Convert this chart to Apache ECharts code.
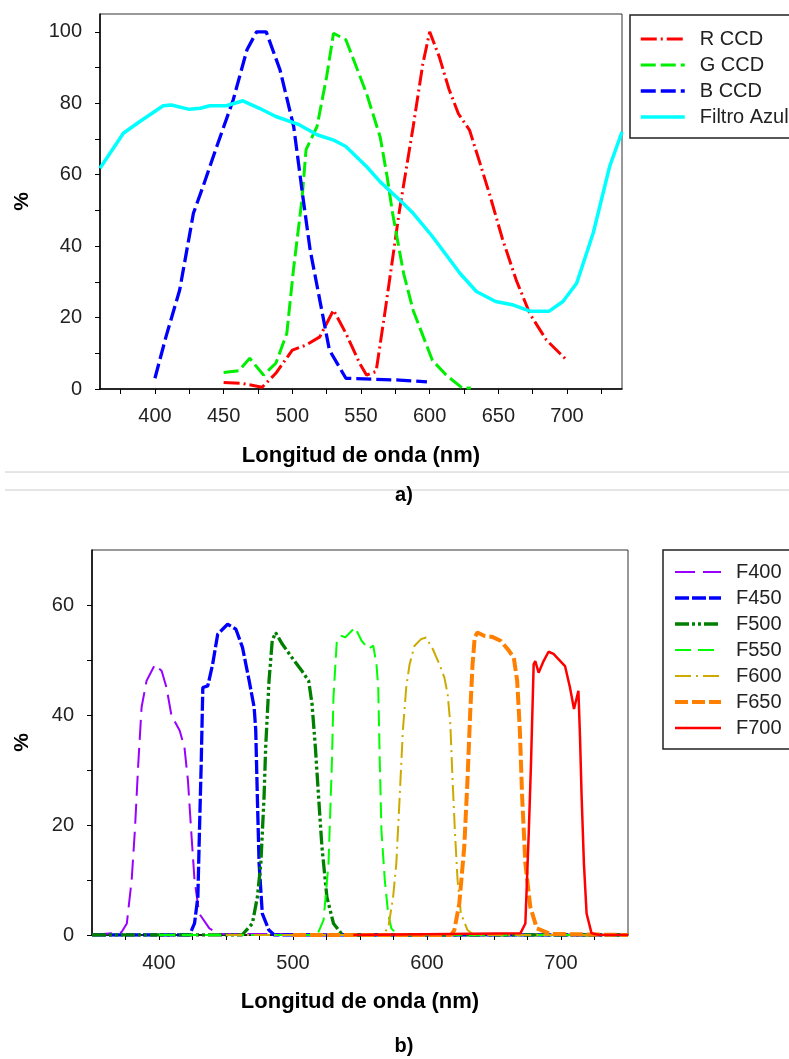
<!DOCTYPE html>
<html>
<head>
<meta charset="utf-8">
<script src="https://cdn.jsdelivr.net/npm/echarts@6/dist/echarts.min.js"></script>
<style>
html,body{margin:0;padding:0;background:#fff;}
#c{width:789px;height:1059px;}
</style>
</head>
<body>
<div id="c"></div>
<script>
// ---------- Chart a) data ----------
const rccdNm  = [450,463,478,488,500,510,520,530,539,549,554,561,568,578,588,595,600,607,614,621,629,636,644,653,663,673,685,700];
const rccdPct = [1.8,1.6,0.5,4.4,10.9,12.3,14.6,22.1,15.6,7.2,3.9,4.9,23,50,73.5,91,100,93,84,77,72.5,64,54,42,30.5,21,13.7,8];

const gccdNm  = [450,461,469,479,488,496,501,507,510,518,525,530,539,554,564,569,573,581,588,602,612,624,630];
const gccdPct = [4.6,5.1,8.6,3.9,7.2,15.6,34,53,67,73.5,87.5,99.6,97.8,82.8,70.5,59.5,49.2,32.4,22,8,3.9,0.2,0.3];

const bccdNm  = [400,408,418,428,435,445,457,467,474,481,491,501,508,513,520,527,539,578,598];
const bccdPct = [3,14.6,27.7,49.2,56.7,67.9,81,95,100,100,89.4,73.5,52.9,38.9,24.9,10.9,3,2.5,2];

const azulNm  = [360,377,389,406,412,425,433,440,452,464,476,488,505,518,530,539,554,564,578,588,602,622,634,648,661,673,687,697,707,719,731,740];
const azulPct = [61.8,71.6,74.9,79.3,79.5,78.3,78.6,79.3,79.3,80.7,78.6,76.3,74,71.2,69.7,67.9,62.3,58,53,49.2,42.7,32.4,27.3,24.5,23.5,21.8,21.8,24.5,29.6,43.6,62.3,72];

const aXTicks  = [375,400,425,450,475,500,525,550,575,600,625,650,675,700,725];
const aXLabels = [400,450,500,550,600,650,700];
const aYTicks  = [0,10,20,30,40,50,60,70,80,90,100];
const aYLabels = [0,20,40,60,80,100];

// ---------- Chart b) data ----------
const f400Nm  = [350,372,376,379.6,382,384.5,387,390.7,397,402,405.6,409.3,415.4,419,421.6,424,426.5,430,437.6,445,750];
const f400Pct = [0,0.5,2.1,10,19,31,41.4,46.2,49.2,48,45,39.9,37.2,34.1,28.1,19,10,3.9,1.2,0.2,0];

const f450Nm  = [350,422.8,426.5,429,430.2,431.5,432.7,436.4,440,443.8,451.2,457.4,462.3,467.3,471,472.2,473.4,474.7,477.1,482,486,750];
const f450Pct = [0,0,2.1,6.9,19,31.1,45,45.3,49.2,54.7,56.5,55.6,52.3,46.2,41.4,37.2,25.1,13,3.9,0.9,0,0];

const f500Nm  = [350,462,469.7,473.4,476,478.4,479.6,482.1,484.5,487,492,499.3,506.7,511.7,514.2,516.7,519.1,521.6,525.3,530.2,537,750];
const f500Pct = [0,0,2.1,6.9,13,25.1,34.1,46.2,53.5,55,52.9,50.4,48,46.2,42,34.1,25.1,16,6.9,2.1,0,0];

const f550Nm  = [400,518,522.8,526.5,529,530.2,532.7,536.4,538.9,546.3,551.2,556.2,559.9,562.3,563.6,564.8,566,568.5,571,573.4,578,750];
const f550Pct = [0,0,2.7,13,31.1,43.2,53.5,54.4,54.1,55.9,53.5,52,52.6,49.2,45,31.1,19,10,3.9,1.2,0,0];

const f600Nm  = [450,566,571,574.7,577.1,579.6,582,584.5,587,590.7,595.6,599.3,604.3,609.3,613,615.4,617.4,619.1,620.8,622.8,625.3,630.2,635,750];
const f600Pct = [0,0,1.2,6.9,13,25.1,37.2,45,49.2,52.6,53.8,54.1,52,49.2,46.8,43.8,38.4,28.1,19,10,3.9,0.9,0,0];

const f650Nm  = [500,618,620.4,624.1,627.8,630.2,632.2,634,635.6,637.6,642.6,648.7,654.9,661.1,664.8,667.3,669.3,671,673.4,677.1,682,692,750];
const f650Pct = [0,0,0.9,5.7,16,28.1,40.2,49.2,54.1,55,54.4,54.2,53.5,51.7,50.4,46.2,37.2,25.1,13,5.1,1.2,0.2,0];

const f700Nm  = [545,669.7,673.4,676,677.6,679.6,680.8,683.3,687,690.7,694.4,703,706.7,709.7,711,713,714.2,715.4,717.1,719.1,722.8,729,750];
const f700Pct = [0,0.3,2.1,19,31.1,49.2,49.8,47.7,49.8,51.5,51.1,48.9,45,41.1,41.3,44.4,35.9,25.1,13,3.9,0.3,0,0];

const bXTicks  = [375,400,425,450,475,500,525,550,575,600,625,650,675,700,725];
const bXLabels = [400,500,600,700];
const bYTicks  = [0,10,20,30,40,50,60];
const bYLabels = [0,20,40,60];

// ---------- build ----------
const FONT = 'Liberation Sans, Arial, sans-serif';
const zip = (xs, ys) => xs.map((x, i) => [x, ys[i]]);

function xAxisCfg(gridIndex, min, max, ticks, labels, gap, lblMargin) {
  return {
    type: 'value', gridIndex, min, max,
    name: 'Longitud de onda (nm)', nameLocation: 'middle', nameGap: gap,
    nameTextStyle: {fontFamily: FONT, fontWeight: 'bold', fontSize: 22, color: '#000'},
    axisLine: {show: true, onZero: false, lineStyle: {color: '#000', width: 1.5}},
    axisTick: {show: true, length: 5, customValues: ticks, lineStyle: {color: '#000', width: 1}},
    axisLabel: {customValues: labels, margin: lblMargin, fontFamily: FONT, fontSize: 20, color: '#222'},
    splitLine: {show: false}
  };
}
function yAxisCfg(gridIndex, min, max, ticks, labels, gap) {
  return {
    type: 'value', gridIndex, min, max,
    name: '%', nameLocation: 'middle', nameGap: gap, nameRotate: 90,
    nameTextStyle: {fontFamily: FONT, fontWeight: 'bold', fontSize: 21, color: '#000'},
    axisLine: {show: true, onZero: false, lineStyle: {color: '#000', width: 1.5}},
    axisTick: {show: true, length: 5, customValues: ticks, lineStyle: {color: '#000', width: 1}},
    axisLabel: {customValues: labels, margin: 18, fontFamily: FONT, fontSize: 20, color: '#222'},
    splitLine: {show: false}
  };
}
function line(name, xi, data, color, width, type) {
  return {
    name, type: 'line', xAxisIndex: xi, yAxisIndex: xi, data,
    symbol: 'none', smooth: false, animation: false,
    lineStyle: {color, width, type},
    itemStyle: {color}
  };
}

const chart = echarts.init(document.getElementById('c'), null, {renderer: 'canvas'});
chart.setOption({
  backgroundColor: '#fff',
  animation: false,
  grid: [
    {left: 100, top: 14, width: 522, height: 375, show: true, borderColor: '#333', borderWidth: 1},
    {left: 92, top: 550, width: 536, height: 385, show: true, borderColor: '#333', borderWidth: 1}
  ],
  xAxis: [
    xAxisCfg(0, 360, 740, aXTicks, aXLabels, 56, 17),
    xAxisCfg(1, 350, 750, bXTicks, bXLabels, 56, 18)
  ],
  yAxis: [
    yAxisCfg(0, 0, 105, aYTicks, aYLabels, 67),
    yAxisCfg(1, 0, 70, bYTicks, bYLabels, 59)
  ],
  legend: [
    {
      orient: 'vertical', left: 639, top: 29, padding: 0, itemGap: 6,
      itemWidth: 44, itemHeight: 14,
      itemStyle: {opacity: 0},
      lineStyle: {width: 'inherit', type: 'inherit'},
      textStyle: {fontFamily: FONT, fontSize: 20, color: '#222', padding: [0, 0, 0, 10]},
      data: ['R CCD', 'G CCD', 'B CCD', 'Filtro Azul']
    },
    {
      orient: 'vertical', left: 673, top: 562, padding: 0, itemGap: 6,
      itemWidth: 46, itemHeight: 14,
      itemStyle: {opacity: 0},
      lineStyle: {width: 'inherit', type: 'inherit'},
      textStyle: {fontFamily: FONT, fontSize: 20, color: '#222', padding: [0, 0, 0, 10]},
      data: ['F400', 'F450', 'F500', 'F550', 'F600', 'F650', 'F700']
    }
  ],
  series: [
    line('R CCD', 0, zip(rccdNm, rccdPct), '#ff0000', 3, [16, 4, 2, 4]),
    line('G CCD', 0, zip(gccdNm, gccdPct), '#00ee00', 3, [15, 5]),
    line('B CCD', 0, zip(bccdNm, bccdPct), '#0000ff', 3.3, [15, 5]),
    line('Filtro Azul', 0, zip(azulNm, azulPct), '#00ffff', 3.5, 'solid'),
    line('F400', 1, zip(f400Nm, f400Pct), '#9900ff', 2, [20, 8]),
    line('F450', 1, zip(f450Nm, f450Pct), '#0000ff', 3.3, [14, 3]),
    line('F500', 1, zip(f500Nm, f500Pct), '#007f00', 3.3, [14, 3, 3, 3, 3, 3]),
    line('F550', 1, zip(f550Nm, f550Pct), '#00ff00', 2, [16, 7]),
    line('F600', 1, zip(f600Nm, f600Pct), '#ccaa00', 2, [16, 5, 2, 5]),
    line('F650', 1, zip(f650Nm, f650Pct), '#ff8000', 4, [13, 4]),
    line('F700', 1, zip(f700Nm, f700Pct), '#ff0000', 2.5, 'solid')
  ],
  graphic: [
    {type: 'rect', shape: {x: 630, y: 15, width: 200, height: 123}, style: {fill: null, stroke: '#222', lineWidth: 1.5}, z: 0},
    {type: 'rect', shape: {x: 663, y: 550, width: 200, height: 199}, style: {fill: null, stroke: '#222', lineWidth: 1.5}, z: 0},
    {type: 'line', shape: {x1: 5, y1: 472, x2: 789, y2: 472}, style: {stroke: '#cccccc', lineWidth: 1}},
    {type: 'line', shape: {x1: 5, y1: 490, x2: 789, y2: 490}, style: {stroke: '#cccccc', lineWidth: 1}},
    {type: 'text', x: 404, y: 495, style: {text: 'a)', font: 'bold 20px Liberation Sans', fill: '#000', textAlign: 'center', textVerticalAlign: 'middle'}},
    {type: 'text', x: 404, y: 1046, style: {text: 'b)', font: 'bold 20px Liberation Sans', fill: '#000', textAlign: 'center', textVerticalAlign: 'middle'}}
  ]
});
</script>
</body>
</html>
